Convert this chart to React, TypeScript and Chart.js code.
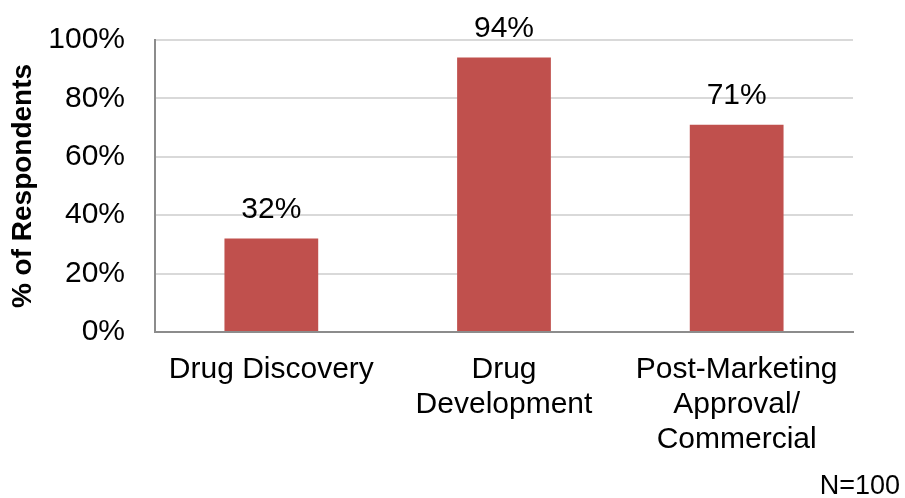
import React, { useEffect, useRef } from "react";
import { Chart, registerables } from "chart.js";

Chart.register(...registerables);

const categories: (string | string[])[] = [
  "Drug Discovery",
  ["Drug", "Development"],
  ["Post-Marketing", "Approval/", "Commercial"],
];
const respondentShare: number[] = [32, 94, 71];
const yTicks: number[] = [0, 20, 40, 60, 80, 100];
const sampleNote = "N=100";

const FONT = "'Liberation Sans', Arial, Helvetica, sans-serif";
const BAR_COLOR = "#C0504D";

const valueLabels = {
  id: "valueLabels",
  afterDatasetsDraw(chart: any) {
    const ctx = chart.ctx;
    const meta = chart.getDatasetMeta(0);
    ctx.save();
    ctx.font = `30px ${FONT}`;
    ctx.fillStyle = "#000";
    ctx.textAlign = "center";
    ctx.textBaseline = "alphabetic";
    meta.data.forEach((bar: any, i: number) => {
      ctx.fillText(`${respondentShare[i]}%`, bar.x, bar.y - 21);
    });
    ctx.restore();
  },
};

const noteLabel = {
  id: "noteLabel",
  afterDraw(chart: any) {
    const ctx = chart.ctx;
    ctx.save();
    ctx.font = `27px ${FONT}`;
    ctx.fillStyle = "#000";
    ctx.textAlign = "right";
    ctx.textBaseline = "alphabetic";
    ctx.fillText(sampleNote, chart.width - 5, chart.height - 4);
    ctx.restore();
  },
};

export default function App() {
  const canvasRef = useRef<HTMLCanvasElement | null>(null);

  useEffect(() => {
    if (!canvasRef.current) return;
    const chart = new Chart(canvasRef.current, {
      type: "bar",
      data: {
        labels: categories,
        datasets: [
          {
            data: respondentShare,
            backgroundColor: BAR_COLOR,
            borderWidth: 0,
            categoryPercentage: 1,
            barPercentage: 0.403,
          },
        ],
      },
      options: {
        responsive: false,
        animation: false,
        devicePixelRatio: 1,
        layout: { padding: { left: 6, right: 52, top: 40, bottom: 0 } },
        plugins: {
          legend: { display: false },
          tooltip: { enabled: false },
        },
        scales: {
          x: {
            grid: { display: false, drawTicks: false },
            border: { display: true, color: "#8c8c8c", width: 2 },
            ticks: {
              color: "#000",
              font: { family: FONT, size: 30, lineHeight: 35 / 30 },
              padding: 20,
              maxRotation: 0,
              autoSkip: false,
            },
            afterFit(scale: any) {
              scale.height = 166;
            },
          },
          y: {
            min: 0,
            max: 100,
            afterBuildTicks(scale: any) {
              scale.ticks = yTicks.map((v) => ({ value: v }));
            },
            grid: { color: "#d9d9d9", lineWidth: 2, drawTicks: false },
            border: { display: true, color: "#8c8c8c", width: 2 },
            ticks: {
              color: "#000",
              font: { family: FONT, size: 30 },
              padding: 30,
              callback: (v: any) => `${v}%`,
            },
            title: {
              display: true,
              text: "% of Respondents",
              color: "#000",
              font: { family: FONT, size: 28, weight: "bold" },
              padding: { top: 0, bottom: 0 },
            },
            afterFit(scale: any) {
              scale.width = 149;
              // the chart's own padding already leaves room for the end labels
              scale.paddingTop = 0;
              scale.paddingBottom = 0;
            },
          },
        },
      },
      plugins: [valueLabels, noteLabel],
    });
    return () => chart.destroy();
  }, []);

  return (
    <div style={{ position: "absolute", left: 0, top: 0, width: 905, height: 498, background: "#fff" }}>
      <canvas ref={canvasRef} width={905} height={498} />
    </div>
  );
}
